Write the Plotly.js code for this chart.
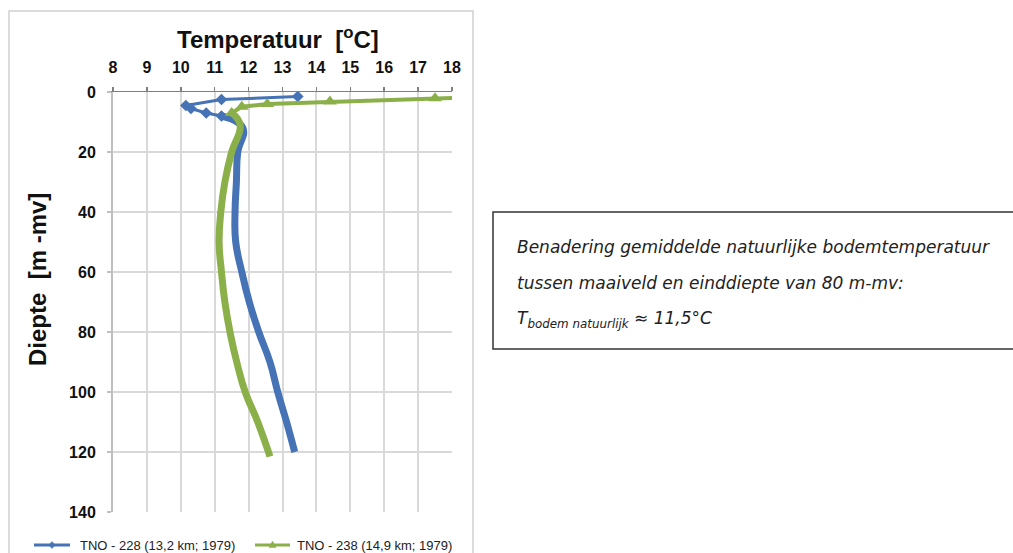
<!DOCTYPE html>
<html>
<head>
<meta charset="utf-8">
<script src="https://cdn.plot.ly/plotly-3.0.1.min.js"></script>
<style>html,body{margin:0;padding:0;background:#fff;}#chart{width:1013px;height:553px;}</style>
</head>
<body>
<div id="chart"></div>
<script>
// ---- data ----
const blueName = "TNO - 228 (13,2 km; 1979)";
const greenName = "TNO - 238 (14,9 km; 1979)";

// shallow (marker) part of TNO-228
const blueTopDepth = [1.5, 2.5, 4.5, 5.5, 7, 8];
const blueTopTemp  = [13.45, 11.2, 10.15, 10.3, 10.75, 11.2];
// deep part of TNO-228
const blueDeepDepth = [8, 12, 20, 30, 40, 50, 60, 70, 80, 90, 100, 110, 120];
const blueDeepTemp  = [11.2, 11.83, 11.68, 11.64, 11.6, 11.62, 11.8, 12.02, 12.3, 12.63, 12.86, 13.12, 13.36];

// shallow (marker) part of TNO-238
const greenTopDepth = [1.4, 2.1, 3.2, 4.0, 4.9, 7];
const greenTopTemp  = [19.5, 17.5, 14.4, 12.55, 11.8, 11.5];
// deep part of TNO-238
const greenDeepDepth = [7, 11, 20, 30, 40, 50, 60, 70, 80, 90, 100, 110, 121.5];
const greenDeepTemp  = [11.5, 11.75, 11.5, 11.3, 11.18, 11.13, 11.2, 11.3, 11.45, 11.65, 11.9, 12.27, 12.63];

const xTicks = [8, 9, 10, 11, 12, 13, 14, 15, 16, 17, 18];
const yTicks = [0, 20, 40, 60, 80, 100, 120, 140];

const boxLines = [
  "Benadering gemiddelde natuurlijke bodemtemperatuur",
  "tussen maaiveld en einddiepte van 80 m-mv:",
  "T<sub>bodem natuurlijk</sub> ≈ 11,5°C"
];

// ---- styling ----
const BLUE = "#4573b5";
const GREEN = "#8bb04a";
const FONT = "Liberation Sans, Arial, sans-serif";
const W = 1013, H = 553;
const M = {l: 113, r: 561, t: 92, b: 41, autoexpand: false};
const PW = W - M.l - M.r, PH = H - M.t - M.b;
const px = x => (x - M.l) / PW;
const py = y => (H - M.b - y) / PH;
const path = pts => "M" + pts.map(p => px(p[0]) + "," + py(p[1])).join("L") + "Z";

const traces = [
  {x: blueDeepTemp, y: blueDeepDepth, mode: "lines", line: {color: BLUE, width: 7, shape: "spline", smoothing: 1.3}, showlegend: false},
  {x: greenDeepTemp, y: greenDeepDepth, mode: "lines", line: {color: GREEN, width: 7, shape: "spline", smoothing: 1.3}, showlegend: false},
  {x: blueTopTemp, y: blueTopDepth, mode: "lines+markers", name: blueName, showlegend: false,
   line: {color: BLUE, width: 3}, marker: {symbol: "diamond", size: 9, color: BLUE}},
  {x: greenTopTemp, y: greenTopDepth, mode: "lines+markers", name: greenName, showlegend: false,
   line: {color: GREEN, width: 4}, marker: {symbol: "triangle-up", size: 12, color: GREEN}}
];

const tickFont = {family: FONT, size: 16, color: "#111", weight: "bold"};

// manual legend geometry (pixels)
const LY = 545;
const legendItems = [
  {name: blueName, color: BLUE, x0: 34, x1: 70, tx: 78, marker: "diamond"},
  {name: greenName, color: GREEN, x0: 255, x1: 290, tx: 295, marker: "triangle"}
];
const legendShapes = [];
const legendAnn = [];
legendItems.forEach(it => {
  legendShapes.push({type: "line", xref: "paper", yref: "paper", x0: px(it.x0), x1: px(it.x1), y0: py(LY), y1: py(LY),
    line: {color: it.color, width: 3}});
  const cx = (it.x0 + it.x1) / 2;
  const pts = it.marker === "diamond"
    ? [[cx, LY - 3.5], [cx + 3, LY], [cx, LY + 3.5], [cx - 3, LY]]
    : [[cx, LY - 4], [cx + 3.5, LY + 2.5], [cx - 3.5, LY + 2.5]];
  legendShapes.push({type: "path", xref: "paper", yref: "paper", path: path(pts),
    fillcolor: it.color, line: {color: it.color, width: 0.5}});
  legendAnn.push({text: it.name, xref: "paper", yref: "paper", x: px(it.tx), y: py(LY),
    xanchor: "left", yanchor: "middle", showarrow: false,
    font: {family: FONT, size: 13, color: "#222"}});
});

const layout = {
  width: W, height: H,
  margin: M,
  paper_bgcolor: "#fff", plot_bgcolor: "#fff",
  showlegend: false,
  xaxis: {range: [8, 18], side: "top", tickvals: xTicks, ticktext: xTicks.map(String),
          showgrid: true, gridcolor: "#d9d9d9", gridwidth: 2,
          showline: true, linecolor: "#7f7f7f", linewidth: 1.5,
          ticks: "outside", ticklen: 4, tickcolor: "#7f7f7f", tickwidth: 1.5,
          ticklabelstandoff: 7, tickfont: tickFont, zeroline: false, fixedrange: true, automargin: false},
  yaxis: {range: [140, 0], tickvals: yTicks, ticktext: yTicks.map(String),
          showgrid: true, gridcolor: "#d9d9d9", gridwidth: 2,
          showline: true, linecolor: "#bfbfbf", linewidth: 2,
          ticks: "outside", ticklen: 4, tickcolor: "#bfbfbf", tickwidth: 1.5,
          ticklabelstandoff: 8, tickfont: tickFont, zeroline: false, fixedrange: true, automargin: false},
  shapes: [
    {type: "rect", xref: "paper", yref: "paper", x0: px(9), x1: px(473), y0: py(11), y1: py(570),
     line: {color: "#d0d0d0", width: 1.5}, fillcolor: "rgba(0,0,0,0)", layer: "below"},
    {type: "rect", xref: "paper", yref: "paper", x0: px(493), x1: px(1030), y0: py(212), y1: py(349),
     line: {color: "#333", width: 1.5}, fillcolor: "rgba(0,0,0,0)"},
    ...legendShapes
  ],
  annotations: [
    {text: "Temperatuur  [<sup>o</sup>C]", xref: "paper", yref: "paper", x: px(278), y: py(38),
     xanchor: "center", yanchor: "middle", showarrow: false,
     font: {family: FONT, size: 24, color: "#111", weight: "bold"}},
    {text: "Diepte  [m -mv]", xref: "paper", yref: "paper", x: px(37), y: py(280), textangle: -90,
     xanchor: "center", yanchor: "middle", showarrow: false,
     font: {family: FONT, size: 24, color: "#111", weight: "bold"}},
    ...boxLines.map((t, i) => ({text: t, xref: "paper", yref: "paper", x: px(515), y: py([247, 283, 319][i]),
      xanchor: "left", yanchor: "middle", showarrow: false,
      font: {family: "DejaVu Sans, sans-serif", size: 17, color: "#222", style: "italic"}})),
    ...legendAnn
  ]
};

Plotly.newPlot("chart", traces, layout, {displayModeBar: false, staticPlot: true});
</script>
</body>
</html>
